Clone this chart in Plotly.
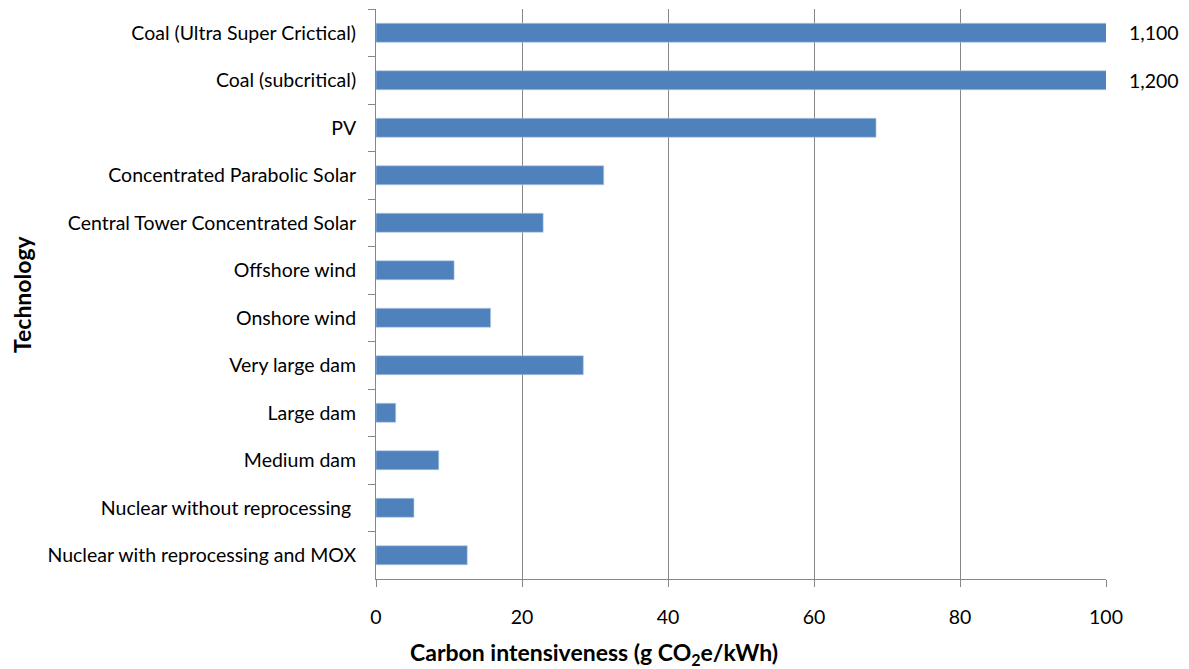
import plotly.graph_objects as go

# Life-cycle carbon intensity by generation technology (g CO2e/kWh)
technologies = [
    "Coal (Ultra Super Crictical)",
    "Coal (subcritical)",
    "PV",
    "Concentrated Parabolic Solar",
    "Central Tower Concentrated Solar",
    "Offshore wind",
    "Onshore wind",
    "Very large dam",
    "Large dam",
    "Medium dam",
    "Nuclear without reprocessing\u00a0",
    "Nuclear with reprocessing and MOX",
]
intensity = [1100, 1200, 68.5, 31.2, 22.9, 10.7, 15.7, 28.4, 2.7, 8.6, 5.2, 12.5]

x_ticks = [0, 20, 40, 60, 80, 100]
x_range = [0, 100]

FONT = "Lato, Calibri, Carlito, sans-serif"
BAR = "#4F81BD"
GRID = "#878787"
TICK_SIZE = 19.5
TITLE_SIZE = 23

fig = go.Figure(
    go.Bar(
        x=intensity,
        y=technologies,
        orientation="h",
        marker=dict(color=BAR, line=dict(color="#B9CDE5", width=0.6)),
        width=0.4,
        hoverinfo="x+y",
    )
)

# values beyond the axis range are written next to the clipped bars
for tech, val in zip(technologies, intensity):
    if val > x_range[1]:
        fig.add_annotation(
            x=1, xref="paper", y=tech, yref="y",
            text=f"{val:,}", showarrow=False,
            xanchor="left", xshift=21,
            font=dict(family=FONT, size=TICK_SIZE, color="#000000"),
        )

# axis titles
fig.add_annotation(
    x=0.298, xref="paper", y=0, yref="paper",
    text="<b>Carbon intensiveness (g CO<sub>2</sub>e/kWh)</b>",
    showarrow=False, xanchor="center", yanchor="middle", yshift=-74,
    font=dict(family=FONT, size=TITLE_SIZE, color="#000000"),
)
fig.add_annotation(
    x=0, xref="paper", y=0.5, yref="paper",
    text="<b>Technology</b>", textangle=-90,
    showarrow=False, xanchor="center", yanchor="middle", xshift=-354,
    font=dict(family=FONT, size=TITLE_SIZE, color="#000000"),
)

fig.update_layout(
    width=1189,
    height=669,
    margin=dict(l=376, r=83, t=9, b=90),
    paper_bgcolor="white",
    plot_bgcolor="white",
    showlegend=False,
    bargap=0.6,
    font=dict(family=FONT, size=TICK_SIZE, color="#000000"),
    xaxis=dict(
        range=x_range,
        tickvals=x_ticks,
        showgrid=True,
        gridcolor=GRID,
        gridwidth=1,
        zeroline=False,
        showline=True,
        linecolor=GRID,
        linewidth=1,
        ticks="outside",
        ticklen=7,
        tickcolor=GRID,
        ticklabelstandoff=14,
        tickfont=dict(family=FONT, size=TICK_SIZE),
        fixedrange=True,
    ),
    yaxis=dict(
        categoryorder="array",
        categoryarray=technologies,
        autorange="reversed",
        showgrid=False,
        zeroline=False,
        showline=True,
        linecolor=GRID,
        linewidth=1,
        ticks="outside",
        tickson="boundaries",
        ticklen=7,
        tickcolor=GRID,
        ticklabelstandoff=15,
        tickfont=dict(family=FONT, size=TICK_SIZE),
        fixedrange=True,
    ),
)

fig.write_html("out.html")
